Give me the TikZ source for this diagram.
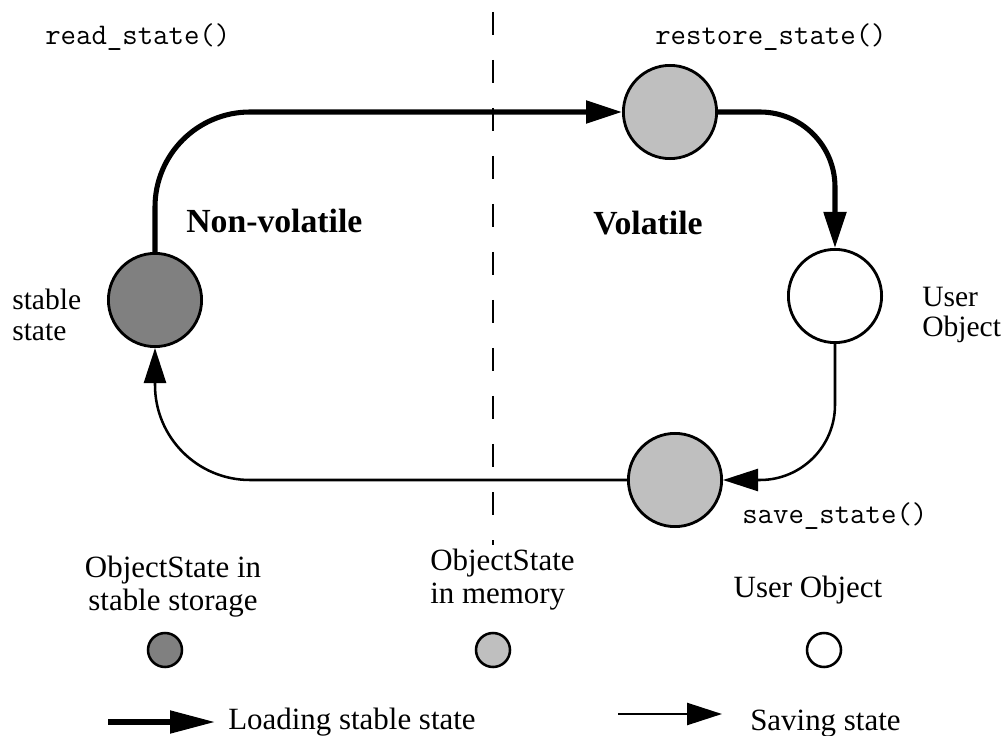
\documentclass[tikz,border=0pt]{standalone}
\usepackage{fontspec}
\setmainfont{Liberation Serif}
\usetikzlibrary{arrows.meta}
\definecolor{stablegray}{gray}{0.5}
\definecolor{memgray}{gray}{0.75}
\newcommand{\us}{\char95 }

\begin{document}
\begin{tikzpicture}[
    objstate/.style={circle,draw,line width=2pt,minimum size=2.33cm,inner sep=0pt},
    keydot/.style={circle,draw,line width=1.8pt,minimum size=0.85cm,inner sep=0pt},
    loadline/.style={line width=3.6pt,-{Triangle[length=0.9cm,width=0.55cm]}},
    saveline/.style={line width=1.8pt,-{Triangle[length=0.875cm,width=0.55cm]}},
    call/.style={font=\ttfamily\fontsize{21.3}{23}\selectfont,inner sep=0pt},
    lbl/.style={font=\fontsize{21}{22}\selectfont,inner sep=0pt,align=left},
    keylbl/.style={font=\fontsize{22}{22.8}\selectfont,inner sep=0pt},
    zone/.style={font=\bfseries\fontsize{24}{26}\selectfont,inner sep=0pt}]
  \useasboundingbox (0,0) rectangle (25.05,18.375);

  % divider between the two zones
  \draw[line width=1.8pt,dash pattern=on 0.575cm off 0.625cm] (12.325,18.075) -- (12.325,4.75);
  \node[zone,anchor=base west] (nonvol) at (4.65,12.55) {Non-volatile};
  \node[zone,anchor=base west] (vol) at (14.825,12.5) {Volatile};

  % the four states
  \node[objstate,fill=stablegray] (stab) at (3.875,10.875) {};
  \node[objstate,fill=memgray] (rest) at (16.75,15.575) {};
  \node[objstate,fill=white] (user) at (20.875,10.975) {};
  \node[objstate,fill=memgray] (save) at (16.875,6.375) {};

  \draw[loadline] (stab.north) [rounded corners=2.375cm] |- (rest.west);
  \draw[loadline] (rest.east) [rounded corners=1.875cm] -| (user.north);
  \draw[saveline] (user.south) [rounded corners=1.875cm] |- (save.east);
  \draw[saveline] (save.west) [rounded corners=2.375cm] -| (stab.south);

  \node[call,anchor=base west] (rdst) at (1.125,17.25) {read\us state()};
  \node[call,anchor=base west] (rsst) at (16.375,17.25) {restore\us state()};
  \node[call,anchor=base west] (svst) at (18.55,5.3) {save\us state()};
  \node[lbl,anchor=west] (stablbl) at (0.3,10.5) {stable\\state};
  \node[lbl,anchor=west] (userlbl) at (23.05,10.5) {User\\Object};

  % legend
  \node[keylbl,align=center,anchor=base] (k1) at (4.325,3.125) {ObjectState in\\stable storage};
  \node[keylbl,align=left,anchor=base west] (k2) at (10.75,3.3) {ObjectState\\in memory};
  \node[keylbl,anchor=base] (k3) at (20.2,3.45) {User Object};
  \node[keydot,fill=stablegray] (d1) at (4.125,2.125) {};
  \node[keydot,fill=memgray] (d2) at (12.325,2.125) {};
  \node[keydot,fill=white] (d3) at (20.6,2.125) {};

  \coordinate (ldA) at (2.7,0.325);
  \coordinate (ldB) at (5.375,0.325);
  \coordinate (svA) at (15.45,0.525);
  \coordinate (svB) at (18.05,0.525);
  \draw[line width=3.6pt,-{Triangle[length=1.125cm,width=0.55cm]}] (ldA) -- (ldB);
  \draw[saveline] (svA) -- (svB);
  \node[keylbl,anchor=base west] (ldlbl) at (5.7,0.15) {Loading stable state};
  \node[keylbl,anchor=base west] (svlbl) at (18.75,0.125) {Saving state};
\end{tikzpicture}
\end{document}
